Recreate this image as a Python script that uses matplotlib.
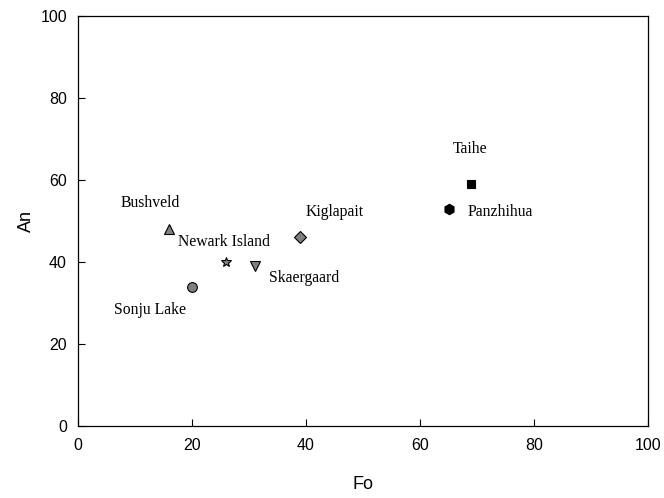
import matplotlib
matplotlib.use("Agg")
import matplotlib.pyplot as plt

names = ["Bushveld", "Sonju Lake", "Newark Island", "Skaergaard", "Kiglapait", "Panzhihua", "Taihe"]
fo = [16, 20, 26, 31, 39, 65, 69]
an = [48, 34, 40, 39, 46, 53, 59]
label_x = [12.6, 12.6, 25.6, 39.7, 45, 74, 68.8]
label_y = [54.4, 28.3, 44.9, 36.1, 52.2, 52.2, 67.6]
markers = ["^", "o", "*", "v", "D", "h", "s"]
colors = ["#808080", "#808080", "#808080", "#808080", "#808080", "black", "black"]
sizes = [7, 7, 7, 7, 6, 7.5, 6]

fig = plt.figure(figsize=(6.64, 4.98), dpi=100)
ax = fig.add_axes([0.1175, 0.1446, 0.8585, 0.8234])

for x, y, m, c, s in zip(fo, an, markers, colors, sizes):
    ax.plot([x], [y], marker=m, color=c, markeredgecolor="black",
            markeredgewidth=0.8, markersize=s, linestyle="none")

for n, lx, ly in zip(names, label_x, label_y):
    ax.text(lx, ly, n, ha="center", va="center", fontsize=11.3,
            family="Liberation Serif")

ax.set_xlim(0, 100)
ax.set_ylim(0, 100)
ax.set_xticks([0, 20, 40, 60, 80, 100])
ax.set_yticks([0, 20, 40, 60, 80, 100])
ax.tick_params(direction="in", length=5, top=False, right=False, labelsize=11.5)
ax.tick_params(axis="x", pad=9)
ax.tick_params(axis="y", pad=8)
for lab in ax.get_xticklabels() + ax.get_yticklabels():
    lab.set_family("Liberation Sans")
for sp in ax.spines.values():
    sp.set_linewidth(0.9)
ax.set_xlabel("Fo", fontsize=13, family="Liberation Sans", labelpad=16)
ax.set_ylabel("An", fontsize=13, family="Liberation Sans", labelpad=4)

fig.savefig("out.png", dpi=100)
